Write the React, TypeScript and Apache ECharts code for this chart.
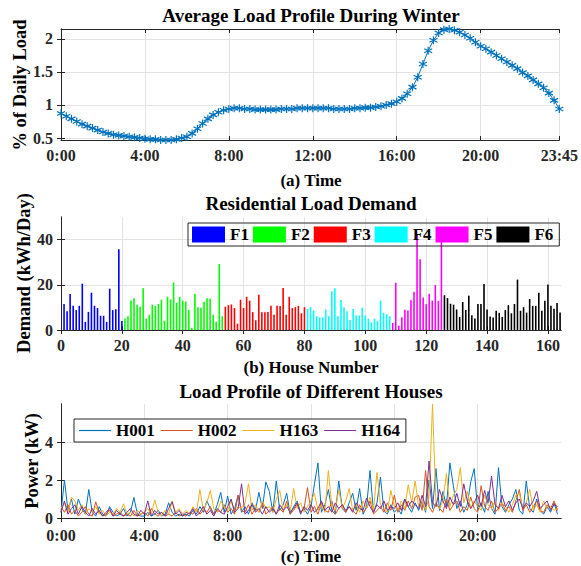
import React, { useEffect, useRef } from 'react';
import * as echarts from 'echarts';

// ---------- (a) Average load profile (15-min slots) ----------
const profileTicks = [0, 4, 8, 12, 16, 20, 23.75];
const profileYTicks = [0.5, 1, 1.5, 2];
const profileValues = [
  0.87, 0.83, 0.79, 0.75, 0.71, 0.68, 0.65, 0.62,
  0.59, 0.57, 0.55, 0.54, 0.53, 0.52, 0.51, 0.50,
  0.49, 0.48, 0.48, 0.47, 0.47, 0.47, 0.48, 0.50,
  0.52, 0.57, 0.64, 0.72, 0.79, 0.85, 0.89, 0.92,
  0.94, 0.95, 0.95, 0.94, 0.94, 0.93, 0.93, 0.93,
  0.93, 0.93, 0.94, 0.94, 0.94, 0.95, 0.95, 0.95,
  0.95, 0.95, 0.95, 0.95, 0.94, 0.94, 0.94, 0.94,
  0.95, 0.95, 0.96, 0.96, 0.97, 0.98, 1.00, 1.02,
  1.05, 1.10, 1.17, 1.27, 1.42, 1.62, 1.82, 1.98,
  2.09, 2.14, 2.15, 2.13, 2.10, 2.06, 2.01, 1.95,
  1.89, 1.85, 1.80, 1.75, 1.70, 1.65, 1.60, 1.55,
  1.49, 1.44, 1.38, 1.32, 1.26, 1.18, 1.07, 0.94,
];

// ---------- (b) Residential load demand ----------
const groupNames = ['F1', 'F2', 'F3', 'F4', 'F5', 'F6'];
const groupColors = ['#0000FF', '#00FF00', '#FF0000', '#00FFFF', '#FF00FF', '#000000'];
const demandF1 = [11.5, 8.3, 15.9, 10.7, 8.8, 10.7, 20.5, 3.6, 8.0, 16.5, 10.7, 9.7, 6.3, 6.3, 3.6, 18.3, 8.8, 9.2, 35.7, 4.0];
const demandF2 = [5.1, 6.1, 13.1, 14.0, 11.2, 10.3, 18.5, 5.1, 6.7, 11.2, 10.7, 11.5, 13.4, 4.0, 14.7, 13.5, 21.0, 12.1, 14.7, 13.0, 12.6,
  8.8, 1.0, 15.9, 10.1, 9.8, 12.5, 14.0, 13.8, 6.8, 3.7, 29.2, 6.1];
const demandF3 = [10.3, 11.0, 11.3, 9.7, 2.8, 13.4, 9.7, 14.7, 13.0, 7.9, 4.3, 15.6, 7.9, 7.9, 8.0, 10.7, 6.7, 10.7, 10.6, 18.6, 6.7, 14.7, 9.7, 10.1, 10.7, 7.4, 10.1];
const demandF4 = [9.3, 10.1, 8.6, 6.1, 5.6, 5.6, 9.0, 6.1, 17.2, 18.5, 6.1, 13.3, 10.1, 8.3, 4.4, 9.3, 6.4, 6.4, 9.9, 6.4, 5.0, 3.4, 5.0, 4.0, 13.0, 7.6, 7.0, 6.1];
const demandF5 = [3.1, 20.9, 1.9, 5.6, 9.0, 8.6, 13.2, 16.9, 42.5, 31.3, 14.4, 11.4, 16.0, 13.0, 19.9, 12.9, 44.0];
const demandF6 = [15.4, 14.1, 11.6, 11.2, 9.1, 5.8, 12.4, 8.8, 15.2, 6.5, 5.1, 11.5, 11.5, 20.4, 9.1, 6.0, 5.5, 8.5, 7.6, 5.8,
  8.9, 11.0, 7.4, 11.5, 22.3, 8.5, 10.1, 7.7, 13.7, 10.7, 10.7, 16.5, 8.5, 12.9, 20.1, 10.7, 9.4, 11.9, 7.7];
const demandGroups = [demandF1, demandF2, demandF3, demandF4, demandF5, demandF6];
const houseXTicks = [0, 20, 40, 60, 80, 100, 120, 140, 160];
const demandYTicks = [0, 20, 40];

// ---------- (c) Load profile of different houses (10-min samples) ----------
const houseNames = ['H001', 'H002', 'H163', 'H164'];
const houseColors = ['#0072BD', '#D95319', '#EDB120', '#7E2F8E'];
const h001 = [
  0.3, 2.0, 0.4, 1.0, 0.2, 1.0, 0.5, 0.2, 1.5, 0.3, 0.1, 0.6,
  0.2, 0.1, 0.6, 0.3, 0.1, 0.2, 0.5, 0.1, 0.3, 1.08, 0.2, 0.1,
  0.1, 0.3, 0.1, 0.2, 0.4, 0.1, 0.2, 0.8, 0.3, 0.1, 0.2, 0.1,
  0.2, 0.1, 0.4, 0.2, 0.6, 0.3, 0.9, 0.5, 0.2, 0.7, 1.35, 0.3,
  1.15, 0.2, 0.5, 1.2, 0.3, 0.6, 0.2, 0.8, 0.4, 1.35, 0.5, 1.9,
  1.4, 0.3, 1.95, 0.4, 0.7, 1.3, 0.2, 0.6, 0.9, 0.3, 0.5, 0.2,
  0.6, 1.8, 2.9, 0.3, 0.7, 1.5, 0.4, 0.2, 1.95, 0.5, 0.3, 0.8,
  1.3, 0.4, 1.55, 0.2, 0.6, 2.5, 0.3, 0.8, 2.15, 0.4, 0.2, 0.7,
  0.3, 0.5, 0.2, 1.0, 0.6, 0.3, 0.8, 0.4, 0.9, 0.3, 2.0, 0.5,
  2.6, 0.4, 1.4, 0.6, 2.9, 1.7, 0.5, 0.9, 0.3, 0.7, 1.9, 2.6,
  0.4, 0.8, 0.3, 1.4, 0.5, 0.2, 2.65, 0.6, 0.3, 0.7, 1.0, 1.5,
  0.4, 0.2, 1.95, 0.5, 0.3, 1.0, 0.4, 0.2, 0.6, 0.3, 0.8, 0.2,
];
const h002 = [
  0.6, 0.3, 0.7, 0.2, 0.4, 0.1, 0.3, 0.6, 0.2, 0.1, 0.85, 0.3,
  0.1, 0.2, 0.4, 0.1, 0.2, 0.3, 0.1, 0.2, 0.1, 0.4, 0.1, 0.2,
  0.3, 0.1, 0.5, 0.2, 0.1, 0.3, 0.1, 0.2, 0.1, 0.3, 0.1, 0.2,
  0.1, 0.3, 0.2, 0.5, 0.2, 0.4, 0.3, 0.6, 0.2, 0.4, 0.3, 0.7,
  0.3, 0.5, 0.2, 1.2, 0.4, 0.3, 0.7, 0.2, 0.5, 0.3, 0.8, 0.2,
  0.4, 0.6, 0.2, 0.5, 0.3, 0.9, 0.2, 0.4, 0.7, 0.3, 0.5, 1.6,
  0.3, 0.6, 0.2, 0.8, 0.4, 0.3, 0.9, 0.2, 0.5, 0.7, 0.3, 0.6,
  0.4, 0.2, 0.7, 0.3, 0.5, 0.9, 0.2, 0.4, 0.6, 0.3, 0.8, 0.4,
  1.2, 0.3, 0.7, 0.4, 0.9, 0.5, 1.1, 1.2, 0.4, 2.5, 0.6, 0.3,
  0.8, 0.5, 0.3, 1.0, 0.4, 0.7, 0.9, 0.3, 0.6, 0.4, 1.1, 0.5,
  0.3, 1.7, 0.6, 0.4, 0.9, 0.3, 0.5, 0.8, 0.4, 0.6, 0.3, 0.9,
  1.5, 0.4, 0.7, 0.3, 0.6, 0.9, 0.4, 0.3, 0.7, 0.5, 0.9, 0.4,
];
const h163 = [
  0.5, 0.8, 0.3, 1.1, 0.9, 0.4, 0.7, 0.2, 0.5, 0.3, 0.6, 0.2,
  0.4, 0.1, 0.3, 0.2, 0.5, 0.3, 0.75, 0.2, 0.3, 0.1, 0.4, 0.2,
  0.3, 0.5, 0.2, 0.95, 0.3, 0.1, 0.4, 0.2, 0.9, 0.3, 0.5, 0.2,
  0.4, 0.2, 0.6, 0.3, 1.5, 0.4, 0.8, 1.45, 0.5, 0.3, 0.9, 0.6,
  0.4, 0.9, 0.3, 0.6, 0.5, 0.8, 1.8, 0.4, 0.7, 0.3, 0.9, 0.5,
  0.6, 0.3, 1.0, 1.45, 0.4, 0.7, 0.3, 1.55, 0.5, 0.8, 0.3, 0.6,
  0.9, 1.3, 0.4, 0.7, 0.3, 2.5, 0.6, 0.4, 1.5, 0.5, 0.9, 1.55,
  0.4, 0.7, 0.3, 0.9, 0.5, 1.1, 0.4, 2.4, 0.7, 0.5, 0.3, 1.45,
  0.6, 0.4, 0.9, 0.5, 1.75, 0.8, 1.95, 0.6, 0.9, 0.4, 1.1, 6.0,
  0.7, 0.5, 0.9, 2.35, 0.6, 1.2, 1.5, 2.65, 0.8, 1.4, 0.5, 0.9,
  0.6, 0.4, 1.2, 0.7, 0.5, 0.9, 0.4, 0.8, 0.6, 0.3, 0.7, 1.2,
  1.3, 0.5, 0.8, 1.5, 0.4, 0.7, 0.3, 0.9, 0.5, 0.6, 0.4, 0.5,
];
const h164 = [
  0.3, 0.9, 0.2, 0.5, 0.7, 0.2, 0.6, 0.3, 0.1, 0.5, 0.2, 0.4,
  0.1, 0.3, 0.5, 0.1, 0.4, 0.2, 0.1, 0.3, 0.5, 0.2, 0.1, 0.4,
  0.2, 0.9, 0.1, 0.4, 0.2, 0.3, 0.1, 0.5, 0.85, 0.2, 0.4, 0.1,
  0.3, 0.2, 0.5, 0.1, 0.3, 0.6, 0.2, 0.4, 0.1, 0.5, 0.3, 0.2,
  0.6, 1.0, 0.3, 0.5, 1.8, 0.2, 0.4, 0.7, 0.3, 0.5, 0.2, 0.6,
  0.3, 0.5, 0.2, 0.7, 0.4, 0.6, 0.3, 0.5, 0.8, 0.2, 0.6, 0.4,
  0.7, 0.3, 0.5, 0.9, 0.4, 0.6, 0.3, 0.8, 0.5, 0.7, 0.4, 0.6,
  0.3, 0.8, 0.5, 0.4, 1.05, 0.6, 0.3, 0.7, 0.5, 0.9, 0.4, 0.6,
  0.5, 0.8, 0.4, 1.0, 0.6, 0.9, 0.7, 0.5, 1.2, 0.6, 3.0, 0.8,
  0.6, 1.5, 0.9, 0.5, 1.1, 0.7, 1.3, 0.6, 1.8, 0.9, 0.5, 0.8,
  1.2, 0.6, 1.45, 0.8, 2.2, 0.7, 0.5, 1.2, 0.6, 0.9, 0.4, 0.8,
  1.0, 0.5, 0.8, 0.6, 0.9, 1.4, 0.5, 0.7, 0.9, 0.4, 0.7, 0.6,
];
const houseSeries = [h001, h002, h163, h164];
const powerXTicks = [0, 4, 8, 12, 16, 20];
const powerYTicks = [0, 2, 4];

const FONT = "'Liberation Serif', 'Times New Roman', serif";
const INK = '#262626';
const GRID = '#e3e3e3';

const fmtTime = (v: number) => {
  const h = Math.floor(v + 1e-6);
  const m = Math.round((v - h) * 60);
  return `${h}:${String(m).padStart(2, '0')}`;
};

const STAR = 'path://M5,0L5,10M0.67,2.5L9.33,7.5M0.67,7.5L9.33,2.5';
const LINE_ICON = 'path://M0,0H32V1.2H0Z';

function baseX(gridIndex: number, min: number, max: number, interval: number, ticks: number[], fmt?: (v: number) => string, margin = 7) {
  return {
    type: 'value', gridIndex, min, max, interval,
    axisLine: { show: true, lineStyle: { color: INK, width: 1 } },
    axisTick: { show: true, inside: true, length: 4, customValues: ticks, lineStyle: { color: INK } },
    axisLabel: {
      customValues: ticks, margin, color: INK, fontFamily: FONT, fontWeight: 'bold', fontSize: 16,
      formatter: fmt ? (v: number) => fmt(v) : (v: number) => String(v),
    },
    splitLine: { show: true, lineStyle: { color: GRID, width: 1 } },
  };
}
function baseY(gridIndex: number, min: number, max: number, ticks: number[], extra: any) {
  return {
    type: 'value', gridIndex, min, max, ...extra,
    axisLine: { show: true, lineStyle: { color: INK, width: 1 } },
    axisTick: { show: true, inside: true, length: 4, customValues: ticks, lineStyle: { color: INK } },
    axisLabel: { customValues: ticks, margin: 8, color: INK, fontFamily: FONT, fontWeight: 'bold', fontSize: 16 },
    splitLine: { show: true, lineStyle: { color: GRID, width: 1 } },
  };
}
function mirrorX(gridIndex: number, min: number, max: number, ticks: number[]) {
  return {
    type: 'value', gridIndex, min, max, position: 'top',
    axisLine: { show: true, lineStyle: { color: INK, width: 1 } },
    axisTick: { show: true, inside: true, length: 4, customValues: ticks, lineStyle: { color: INK } },
    axisLabel: { show: false }, splitLine: { show: false },
  };
}
function mirrorY(gridIndex: number, min: number, max: number, ticks: number[]) {
  return {
    type: 'value', gridIndex, min, max, position: 'right',
    axisLine: { show: true, lineStyle: { color: INK, width: 1 } },
    axisTick: { show: true, inside: true, length: 4, customValues: ticks, lineStyle: { color: INK } },
    axisLabel: { show: false }, splitLine: { show: false },
  };
}

const txt = (text: string, x: number, y: number, size: number, rot = 0) => ({
  type: 'text', x, y, rotation: rot, z: 100,
  style: { text, fill: '#000', fontFamily: FONT, fontWeight: 'bold', fontSize: size, align: 'center', verticalAlign: 'middle' },
});

function buildOption() {
  const profileData = profileValues.map((v, i) => [i * 0.25, v]);
  const barSeries = demandGroups.map((vals, g) => {
    const start = 1 + demandGroups.slice(0, g).reduce((s, a) => s + a.length, 0);
    return {
      type: 'bar', name: groupNames[g], xAxisIndex: 1, yAxisIndex: 1,
      barWidth: 1.6, barGap: '-100%',
      itemStyle: { color: groupColors[g] },
      data: vals.map((v, k) => [start + k, v]),
    };
  });
  const lineSeries = houseSeries.map((vals, s) => ({
    type: 'line', name: houseNames[s], xAxisIndex: 2, yAxisIndex: 2,
    symbol: 'none', showSymbol: false,
    lineStyle: { color: houseColors[s], width: 1 },
    itemStyle: { color: houseColors[s] },
    data: vals.map((v, i) => [i / 6, v]),
  }));

  return {
    animation: false,
    backgroundColor: '#fff',
    grid: [
      { left: 61, top: 29, width: 501, height: 111, show: false },
      { left: 61, top: 217, width: 500, height: 113, show: false },
      { left: 61, top: 404, width: 500, height: 114, show: false },
    ],
    xAxis: [
      baseX(0, 0, 23.75, 4, profileTicks, fmtTime),
      baseX(1, 0, 164.3, 20, houseXTicks),
      baseX(2, 0, 24, 4, powerXTicks, fmtTime, 9),
      mirrorX(0, 0, 23.75, profileTicks),
      mirrorX(1, 0, 164.3, houseXTicks),
      mirrorX(2, 0, 24, powerXTicks),
    ],
    yAxis: [
      baseY(0, 0.47, 2.15, profileYTicks, { splitNumber: 4 }),
      baseY(1, 0, 50, demandYTicks, { interval: 20 }),
      baseY(2, 0, 6, powerYTicks, { interval: 2 }),
      mirrorY(0, 0.47, 2.15, profileYTicks),
      mirrorY(1, 0, 50, demandYTicks),
      mirrorY(2, 0, 6, powerYTicks),
    ],
    legend: [
      {
        data: groupNames, left: 188, top: 223, orient: 'horizontal',
        icon: 'rect', itemWidth: 33, itemHeight: 16, itemGap: 4,
        padding: [3, 6, 3, 4], borderColor: INK, borderWidth: 1,
        textStyle: { fontFamily: FONT, fontWeight: 'bold', fontSize: 17, color: '#000' },
      },
      {
        data: houseNames, left: 74, top: 419, orient: 'horizontal',
        icon: LINE_ICON, symbolKeepAspect: true,
        itemWidth: 32, itemHeight: 14, itemGap: 6,
        padding: [3, 6, 3, 5], borderColor: INK, borderWidth: 1, backgroundColor: '#fff',
        textStyle: { fontFamily: FONT, fontWeight: 'bold', fontSize: 17, color: '#000' },
      },
    ],
    series: [
      {
        type: 'line', name: 'profile', xAxisIndex: 0, yAxisIndex: 0,
        symbol: STAR, symbolSize: 8, showSymbol: true,
        lineStyle: { color: '#0072BD', width: 1 },
        itemStyle: { color: '#0072BD', borderColor: '#0072BD', borderWidth: 1.2 },
        data: profileData,
      },
      ...barSeries,
      ...lineSeries,
    ],
    graphic: [
      txt('Average Load Profile During Winter', 311, 15, 19),
      txt('(a) Time', 311, 180, 17),
      txt('% of Daily Load', 20, 85, 18.5, Math.PI / 2),
      txt('Residential Load Demand', 311, 203, 19),
      txt('(b) House Number', 311, 367, 17),
      txt('Demand (kWh/Day)', 24, 273, 18.5, Math.PI / 2),
      txt('Load Profile of Different Houses', 311, 391, 19),
      txt('(c) Time', 311, 556, 17),
      txt('Power (kW)', 32, 461, 18.5, Math.PI / 2),
    ],
  };
}

export default function App() {
  const ref = useRef<HTMLDivElement>(null);
  useEffect(() => {
    if (!ref.current) return;
    const chart = echarts.init(ref.current, null, { renderer: 'svg' });
    chart.setOption(buildOption() as any);
    return () => chart.dispose();
  }, []);
  return (
    <div
      ref={ref}
      style={{ position: 'fixed', left: 0, top: 0, width: 581, height: 566, background: '#fff' }}
    />
  );
}
